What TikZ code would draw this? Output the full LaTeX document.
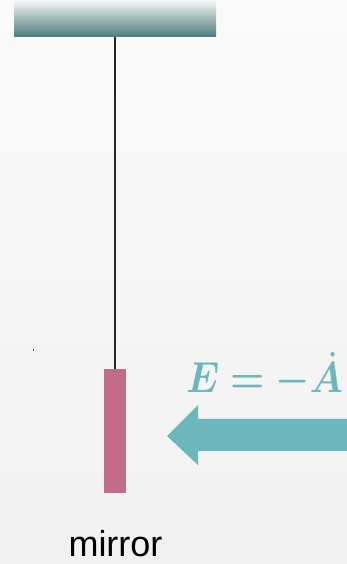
\documentclass[tikz,border=0pt]{standalone}
\usepackage{fontspec}
\usepackage{amsmath,bm,graphicx}
\newfontfamily\labelfont{Liberation Sans}
\definecolor{bgtop}{HTML}{FAFAFA}
\definecolor{bgbot}{HTML}{F1F1F1}
\definecolor{ceiltop}{HTML}{F6F8F8}
\definecolor{ceilbot}{HTML}{4B7A7A}
\definecolor{mirrorc}{HTML}{C46B88}
\definecolor{fieldc}{HTML}{6CB7BE}
\begin{document}
\begin{tikzpicture}[x=1pt,y=1pt,
  ceilstyle/.style={rectangle,inner sep=0,minimum width=202pt,minimum height=37pt,top color=ceiltop,bottom color=ceilbot,draw=none},
  mirrorstyle/.style={rectangle,inner sep=0,minimum width=22pt,minimum height=124pt,fill=mirrorc,draw=none},
  wire/.style={line width=1.4pt,black!85}]
\shade[top color=bgtop,bottom color=bgbot] (0,0) rectangle (347,564);
\useasboundingbox (0,0) rectangle (347,564);
\node[ceilstyle] (ceiling) at (115,545.5) {};
\node[mirrorstyle] (mirror) at (115,133) {};
\draw[wire] (ceiling.south) -- (mirror.north);
\fill[mirrorc!60!black] (32.5,213) rectangle (33.5,215);
\fill[fieldc] (167,128) -- (198,159) -- (198,145) -- (347,145) -- (347,113) -- (198,113) -- (198,99) -- cycle;
\node[anchor=base west,inner sep=0,text=fieldc] (field) at (186,171) {\resizebox{157pt}{40pt}{$\bm{E=-\dot{A}}$}};
\node[anchor=base,inner sep=0,font=\labelfont\fontsize{36}{36}\selectfont] (label) at (115.5,7) {mirror};
\end{tikzpicture}
\end{document}
